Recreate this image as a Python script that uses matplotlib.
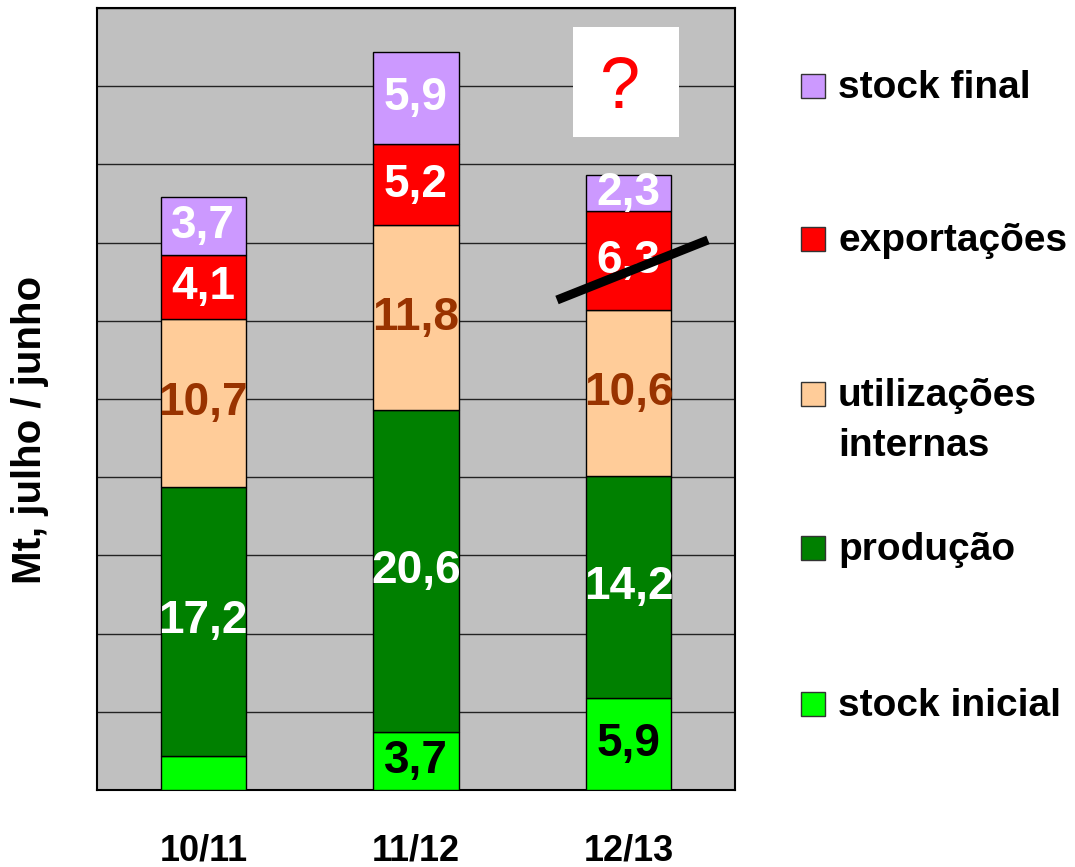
import matplotlib
matplotlib.use('Agg')
import matplotlib.pyplot as plt
from matplotlib.patches import Rectangle

plt.rcParams['font.family'] = ['Liberation Sans', 'DejaVu Sans']

# dados (Mt, julho / junho)
campanhas = ['10/11', '11/12', '12/13']
stock_inicial = [2.2, 3.7, 5.9]
producao = [17.2, 20.6, 14.2]
utilizacoes = [10.7, 11.8, 10.6]
exportacoes = [4.1, 5.2, 6.3]
stock_final = [3.7, 5.9, 2.3]
mostrar_stock_inicial = [False, True, True]

series = [
    ('stock inicial', stock_inicial, '#00FF00', 'black'),
    ('produção', producao, '#008000', 'white'),
    ('utilizações\ninternas', utilizacoes, '#FFCC99', '#993300'),
    ('exportações', exportacoes, '#FF0000', 'white'),
    ('stock final', stock_final, '#CC99FF', 'white'),
]

fig = plt.figure(figsize=(10.75, 8.67), dpi=100)
ax = fig.add_axes([97 / 1075, 77 / 867, 638 / 1075, 782 / 867])
ax.set_facecolor('#C0C0C0')

x = list(range(len(campanhas)))
base = [0.0] * len(campanhas)
for nome, vals, cor, cor_txt in series:
    bars = ax.bar(x, vals, 0.4, bottom=base, color=cor, edgecolor='black', linewidth=1.0, zorder=3)
    for i, b in enumerate(bars):
        if nome == 'stock inicial' and not mostrar_stock_inicial[i]:
            continue
        ax.text(b.get_x() + b.get_width() / 2, base[i] + vals[i] / 2,
                f'{vals[i]:.1f}'.replace('.', ','), ha='center', va='center',
                fontsize=33, fontweight='bold', color=cor_txt, zorder=5)
    base = [b0 + v for b0, v in zip(base, vals)]

ax.set_xlim(-0.5, 2.5)
ax.set_ylim(0, 50)
ax.set_yticks(range(0, 51, 5))
ax.yaxis.grid(True, color='#222222', linewidth=1.0)
ax.set_axisbelow(True)
ax.tick_params(left=False, labelleft=False, bottom=False, pad=28)
ax.set_xticks(x)
ax.set_xticklabels(campanhas, fontsize=26, fontweight='bold')
for s in ax.spines.values():
    s.set_linewidth(1.5)
    s.set_color('black')

# caixa com "?" e traço sobre as exportações 12/13
ax.add_patch(Rectangle((1.738, 41.75), 0.5, 7.05, facecolor='white', edgecolor='none', zorder=4))
ax.text(1.96, 44.8, '?', ha='center', va='center', fontsize=52, color='#FF0000', zorder=5)
ax.plot([1.663, 2.373], [31.33, 35.17], color='black', linewidth=6.5, solid_capstyle='butt', zorder=6)

fig.text(30 / 1075, 1 - 430 / 867, 'Mt, julho / junho', rotation=90, ha='center', va='center',
         fontsize=29, fontweight='bold')

# legenda
ys = [704, 548, 394, 239, 86]
for (nome, vals, cor, cor_txt), yc in zip(series, ys):
    fig.add_artist(Rectangle((801 / 1075, 1 - (yc + 12) / 867), 24 / 1075, 24 / 867,
                             facecolor=cor, edgecolor='#333333', linewidth=1.0,
                             transform=fig.transFigure))
    for k, linha in enumerate(nome.split('\n')):
        fig.text(838 / 1075, 1 - (yc + 12 + 50 * k) / 867, linha, ha='left', va='baseline',
                 fontsize=28, fontweight='bold')

fig.savefig('out.png', dpi=100)
